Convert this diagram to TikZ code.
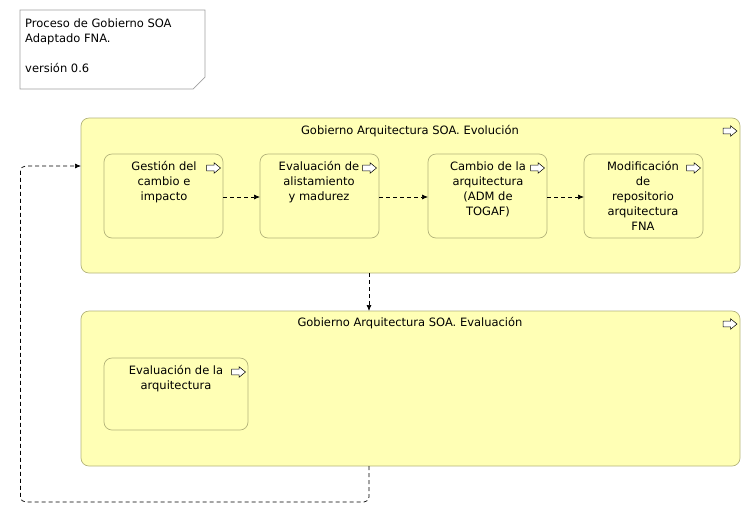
\documentclass[tikz,border=0pt]{standalone}
\usepackage{fontspec}
\setmainfont{DejaVu Sans}
\usetikzlibrary{arrows.meta}
\definecolor{boxfill}{HTML}{FFFFB5}
\definecolor{boxline}{HTML}{B3B37A}
\definecolor{noteline}{HTML}{A0A0A0}
\newcommand{\procicon}[2]{%
  \draw[black, line width=0.5pt, fill=white]
    (#1-7,#2-2.8) -- (#1+0.5,#2-2.8) -- (#1+0.5,#2-5.3) -- (#1+7,#2) -- (#1+0.5,#2+5.3) -- (#1+0.5,#2+2.8) -- (#1-7,#2+2.8) -- cycle;}
\begin{document}
\begin{tikzpicture}[x=1pt,y=-1pt,
  every node/.style={font=\fontsize{11.5}{15}\selectfont, text=black},
  container/.style={draw=boxline, fill=boxfill, rounded corners=8pt, line width=0.7pt},
  procbox/.style={draw=boxline, fill=boxfill, rounded corners=8pt, line width=0.7pt},
  flow/.style={dashed, dash pattern=on 4pt off 3pt, line width=0.7pt, -{Latex[length=6pt,width=5pt]}},
  lbl/.style={anchor=north, align=center, inner sep=0pt}]
\useasboundingbox (0,0) rectangle (751,523);
% note
\draw[noteline, line width=0.7pt, fill=white] (20,10) -- (205,10) -- (205,77) -- (193,89) -- (20,89) -- cycle;
\node[anchor=north west, align=left, inner sep=0pt] (note) at (25,18.5) {Proceso de Gobierno SOA\\Adaptado FNA.\\[15pt]versión 0.6};
% containers
\draw[container] (81,118) rectangle (740,273);
\coordinate (evoTop) at (369,273);
\coordinate (evoLeft) at (81,166);
\node[inner sep=0pt] (evoT) at (410,131) {Gobierno Arquitectura SOA. Evolución};
\procicon{730}{131}
\draw[container] (81,311) rectangle (740,466);
\coordinate (evaTop) at (369,311);
\coordinate (evaBot) at (369,466);
\node[inner sep=0pt] (evaT) at (410,323) {Gobierno Arquitectura SOA. Evaluación};
\procicon{730}{324}
% inner boxes
\draw[procbox] (104,154) rectangle (223,238);
\node[lbl] (b1) at (164,161.5) {Gestión del\\cambio e\\impacto};
\procicon{213.5}{168}
\draw[procbox] (260,154) rectangle (379,238);
\node[lbl] (b2) at (319,161.5) {Evaluación de\\alistamiento\\y madurez};
\procicon{369.5}{168}
\draw[procbox] (428,154) rectangle (547,238);
\node[lbl] (b3) at (488,161.5) {Cambio de la\\arquitectura\\(ADM de\\TOGAF)};
\procicon{537.5}{168}
\draw[procbox] (584,154) rectangle (703,238);
\node[lbl] (b4) at (643,161.5) {Modificación\\de\\repositorio\\arquitectura\\FNA};
\procicon{693.5}{168}
\draw[procbox] (104,358) rectangle (248,430);
\node[lbl] (b5) at (176,365.5) {Evaluación de la\\arquitectura};
\procicon{238.5}{372}
\coordinate (b1r) at (223,197);
\coordinate (b2l) at (260,197);
\coordinate (b2r) at (379,197);
\coordinate (b3l) at (428,197);
\coordinate (b3r) at (547,197);
\coordinate (b4l) at (584,197);
% connectors
\draw[flow] (b1r) -- (b2l);
\draw[flow] (b2r) -- (b3l);
\draw[flow] (b3r) -- (b4l);
\draw[flow] (evoTop) -- (evaTop);
\draw[flow, rounded corners=5pt] (evaBot) -- (369,502) -- (20.5,502) -- (20.5,166) -- (evoLeft);
\end{tikzpicture}
\end{document}
